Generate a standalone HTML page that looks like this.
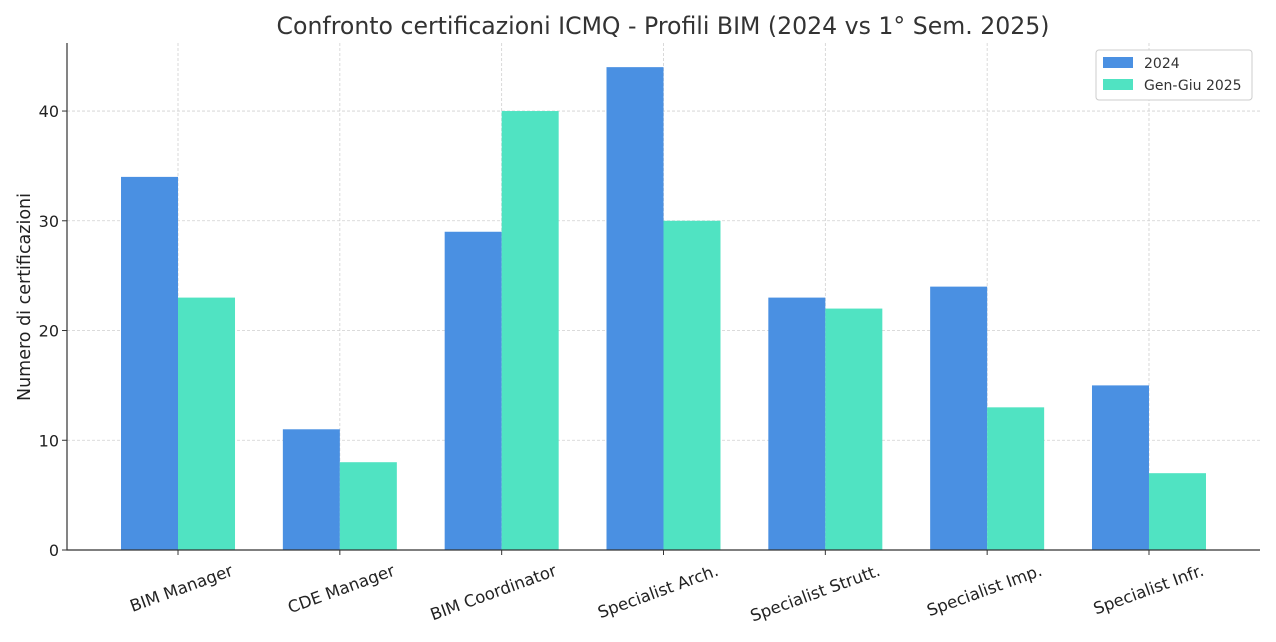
<!DOCTYPE html>
<html><head><meta charset="utf-8"><style>
body{margin:0;background:#fff;font-family:"DejaVu Sans","Liberation Sans",sans-serif;}
</style></head><body>
<svg width="1276" height="638" viewBox="0 0 1276 638" id="chart" xmlns="http://www.w3.org/2000/svg">
<text x="663" y="34" text-anchor="middle" font-size="23.6" fill="#333">Confronto certificazioni ICMQ - Profili BIM (2024 vs 1° Sem. 2025)</text>
<text transform="translate(30,297) rotate(-90)" text-anchor="middle" font-size="17.5" fill="#222">Numero di certificazioni</text>
<g id="grid"></g><g id="bars"></g><g id="axes"></g>
<g>
<rect x="1096" y="50" width="156" height="50" rx="3" fill="#fff" stroke="#ccc"/>
<rect x="1103" y="57" width="30" height="11" fill="#4A90E2"/>
<text x="1144" y="68" font-size="14" fill="#333">2024</text>
<rect x="1103" y="79" width="30" height="11" fill="#50E3C2"/>
<text x="1144" y="90" font-size="14" fill="#333">Gen-Giu 2025</text>
</g>
</svg>
<script>
const categories=["BIM Manager","CDE Manager","BIM Coordinator","Specialist Arch.","Specialist Strutt.","Specialist Imp.","Specialist Infr."];
const values2024=[34,11,29,44,23,24,15];
const values2025=[23,8,40,30,22,13,7];
const yTicks=[0,10,20,30,40];
const NS="http://www.w3.org/2000/svg";
const L=67,R=1260,T=43,B=550;
const yMax=46.2;
const y=v=>B-v*(B-T)/yMax;
const pad=0.686;
const step=(R-L)/(categories.length-1+2*pad);
const x=i=>L+step*(i+pad);
const bw=57;
function mk(tag,attrs,parent,txt){const e=document.createElementNS(NS,tag);for(const k in attrs)e.setAttribute(k,attrs[k]);if(txt!==undefined)e.textContent=txt;document.getElementById(parent).appendChild(e);return e;}
yTicks.forEach(t=>{
 let g=mk('line',{x1:L,x2:R,y1:y(t),y2:y(t),stroke:'#d0d0d0','stroke-dasharray':'3,2','stroke-width':0.8},'grid');
 
 
 mk('line',{x1:L-5,x2:L,y1:y(t),y2:y(t),stroke:'#333'},'axes');
 let lb=mk('text',{x:L-8,y:y(t)+6,'text-anchor':'end','font-size':16,fill:'#222'},'axes',t);
 
 
});
categories.forEach((c,i)=>{
 let g=mk('line',{x1:x(i),x2:x(i),y1:T,y2:B,stroke:'#d0d0d0','stroke-dasharray':'3,2','stroke-width':0.8},'grid');
 
 
 let b1=mk('rect',{x:x(i)-bw,y:y(values2024[i]),width:bw,height:B-y(values2024[i]),fill:'#4A90E2'},'bars');
 
 
 let b2=mk('rect',{x:x(i),y:y(values2025[i]),width:bw,height:B-y(values2025[i]),fill:'#50E3C2'},'bars');
 
 
 mk('line',{x1:x(i),x2:x(i),y1:B,y2:B+5,stroke:'#333'},'axes');
 let lb=mk('text',{transform:`translate(${x(i)+56},${B+25}) rotate(-20)`,'text-anchor':'end','font-size':16.5,fill:'#222'},'axes',c);
 
 
});
let ax=mk('path',{d:`M${L},${T}V${B}H${R}`,fill:'none',stroke:'#333','stroke-width':1.2},'axes');


</script>
</body></html>
